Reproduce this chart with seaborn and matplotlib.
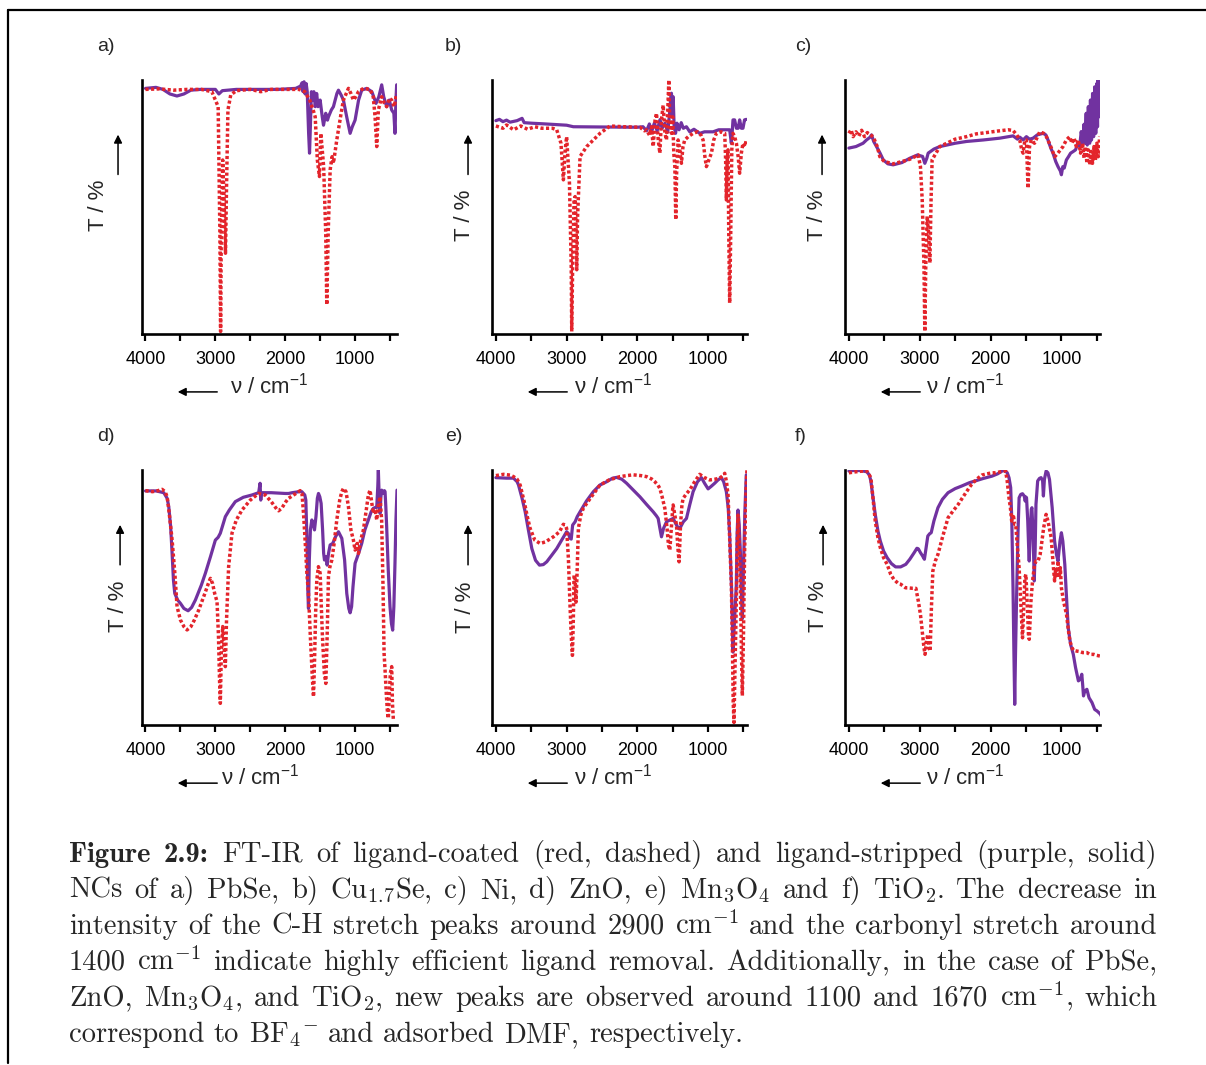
import numpy as np
import seaborn as sns
import matplotlib.pyplot as plt
from matplotlib.lines import Line2D

sns.set_theme(style='ticks')
plt.rcParams['font.family'] = ['Liberation Sans', 'DejaVu Sans']
plt.rcParams['mathtext.fontset'] = 'custom'
plt.rcParams['mathtext.rm'] = 'Liberation Sans'
plt.rcParams['mathtext.it'] = 'Liberation Sans:italic'
plt.rcParams['mathtext.bf'] = 'Liberation Sans:bold'

RED = '#e3242b'
PURPLE = '#7132a0'

# spectra: [wavenumber (cm-1), T (% of plot height)]
a_coated = np.array([
    [4000, 96.3], [3800, 96.5], [3600, 96.0], [3400, 96.3], [3200, 96.3], [3050, 95.4],
    [2960, 89.5], [2935, 39.7], [2925, 1.0], [2915, 39.7], [2895, 68.5], [2875, 52.8],
    [2855, 31.8], [2840, 58.0], [2820, 88.2], [2780, 94.1], [2700, 95.8], [2500, 96.3],
    [2350, 95.4], [2200, 96.3], [2000, 96.3], [1800, 96.3], [1720, 95.4], [1650, 92.1],
    [1600, 88.2], [1571, 85.5], [1540, 68.5], [1510, 62.0], [1490, 79.0], [1450, 65.9],
    [1420, 39.7], [1405, 11.5], [1385, 39.7], [1357, 64.6], [1330, 69.8], [1310, 67.2],
    [1262, 76.4], [1200, 86.9], [1167, 92.1], [1095, 96.7], [1060, 94.7], [1024, 92.1],
    [990, 93.4], [952, 95.4], [881, 96.7], [786, 96.3], [740, 93.4], [714, 85.5],
    [690, 73.8], [667, 88.2], [619, 93.4], [580, 90.8], [548, 89.5], [510, 92.8],
    [476, 92.1], [440, 89.5], [405, 94.7]])
a_stripped = np.array([
    [4000, 96.7], [3850, 97.1], [3750, 96.3], [3650, 94.5], [3550, 93.7], [3450, 94.5],
    [3350, 96.0], [3214, 96.3], [3000, 96.3], [2950, 94.5], [2900, 95.8], [2700, 96.3],
    [2400, 96.3], [2100, 96.3], [1850, 96.7], [1780, 97.6], [1760, 98.9], [1745, 95.4],
    [1730, 99.3], [1715, 94.5], [1700, 98.6], [1685, 95.4], [1665, 79.0], [1652, 71.2],
    [1640, 81.6], [1625, 95.4], [1605, 92.1], [1590, 95.4], [1570, 89.5], [1550, 94.7],
    [1530, 89.5], [1500, 92.1], [1470, 85.5], [1452, 82.2], [1420, 86.9], [1395, 84.2],
    [1381, 85.5], [1340, 88.2], [1310, 89.5], [1260, 94.7], [1238, 96.0], [1200, 94.1],
    [1167, 92.1], [1120, 85.5], [1071, 79.0], [1040, 81.6], [1000, 84.2], [950, 92.1],
    [905, 96.0], [833, 96.7], [760, 95.4], [700, 90.8], [660, 93.4], [619, 98.1],
    [590, 93.4], [548, 89.5], [510, 92.1], [476, 88.2], [445, 86.9], [429, 79.0],
    [415, 92.1], [405, 98.1]])

b_coated = np.array([
    [4000, 81.9], [3900, 81.0], [3850, 82.3], [3750, 80.4], [3650, 81.9], [3550, 80.6],
    [3450, 81.6], [3350, 81.0], [3200, 81.0], [3140, 80.4], [3080, 75.1], [3046, 60.7],
    [3020, 72.5], [3000, 77.7], [2960, 59.4], [2935, 26.6], [2928, 1.0], [2915, 26.6],
    [2895, 52.8], [2880, 54.1], [2865, 39.7], [2857, 25.3], [2845, 46.3], [2810, 69.9],
    [2716, 73.8], [2622, 76.4], [2528, 79.0], [2387, 81.9], [2200, 81.6], [1964, 81.4],
    [1900, 80.0], [1870, 80.4], [1830, 78.3], [1800, 81.6], [1776, 73.8], [1750, 84.2],
    [1729, 86.9], [1705, 76.4], [1682, 71.2], [1660, 84.2], [1635, 90.1], [1610, 79.0],
    [1588, 76.4], [1570, 88.2], [1555, 100.0], [1540, 81.6], [1518, 79.0], [1500, 85.5],
    [1485, 71.2], [1470, 65.9], [1457, 45.0], [1445, 63.3], [1424, 76.4], [1400, 72.5],
    [1377, 67.2], [1355, 73.8], [1330, 76.4], [1280, 77.7], [1212, 79.0], [1150, 79.6],
    [1100, 78.3], [1071, 76.4], [1045, 69.8], [1024, 65.9], [990, 68.5], [953, 71.2],
    [920, 76.4], [883, 79.0], [820, 79.6], [765, 79.0], [752, 68.5], [742, 52.8],
    [730, 68.5], [718, 72.5], [708, 39.7], [695, 12.2], [680, 39.7], [665, 72.5],
    [648, 79.0], [625, 77.7], [600, 75.1], [575, 69.8], [554, 63.3], [530, 71.2],
    [507, 75.1], [480, 73.8], [460, 76.4]])
b_stripped = np.array([
    [4000, 84.0], [3950, 84.5], [3900, 83.6], [3850, 84.2], [3800, 83.4], [3700, 84.0],
    [3630, 84.9], [3600, 83.2], [3500, 83.0], [3300, 82.7], [3000, 82.2], [2905, 81.6],
    [2500, 81.5], [2000, 81.4], [1920, 81.6], [1870, 80.0], [1830, 82.7], [1800, 79.6],
    [1760, 83.0], [1720, 80.0], [1680, 84.4], [1650, 81.0], [1610, 83.0], [1570, 79.6],
    [1540, 88.2], [1525, 94.1], [1518, 94.8], [1505, 85.6], [1494, 93.4], [1480, 81.6],
    [1460, 79.0], [1440, 83.0], [1410, 80.4], [1380, 83.2], [1350, 81.0], [1306, 81.6],
    [1259, 79.6], [1200, 80.6], [1118, 79.0], [1050, 79.6], [930, 79.6], [850, 80.4],
    [760, 80.4], [695, 80.4], [680, 77.1], [671, 75.1], [660, 79.0], [648, 84.3],
    [625, 84.3], [600, 81.0], [575, 81.0], [554, 84.3], [530, 81.0], [507, 81.0],
    [485, 84.3], [460, 84.5]])

c_coated = np.array([
    [4000, 79.0], [3970, 80.4], [3940, 77.7], [3900, 79.6], [3860, 77.9], [3820, 80.2],
    [3780, 77.7], [3740, 79.3], [3700, 78.4], [3657, 77.7], [3600, 73.8], [3563, 69.8],
    [3500, 67.9], [3375, 67.0], [3250, 67.9], [3140, 68.8], [3022, 70.5], [2990, 65.9],
    [2965, 52.8], [2940, 26.6], [2928, 1.0], [2915, 26.6], [2895, 46.3], [2875, 39.7],
    [2857, 28.0], [2840, 52.8], [2825, 68.6], [2716, 73.8], [2500, 76.7], [2340, 77.7],
    [2200, 78.8], [2058, 79.3], [1900, 79.9], [1750, 80.4], [1682, 80.1], [1630, 78.4],
    [1588, 76.4], [1560, 72.5], [1541, 71.2], [1515, 76.4], [1494, 76.4], [1471, 57.4],
    [1450, 73.8], [1424, 76.4], [1380, 75.1], [1306, 79.6], [1250, 79.0], [1212, 77.7],
    [1150, 73.8], [1094, 69.8], [1050, 71.2], [977, 73.8], [930, 76.4], [883, 77.7],
    [850, 75.1], [820, 77.1], [789, 73.8], [760, 76.4], [730, 71.2], [700, 75.1],
    [680, 69.2], [660, 73.8], [640, 67.2], [620, 72.5], [601, 66.6], [580, 71.9],
    [560, 67.2], [540, 73.8], [520, 68.5], [500, 75.1], [480, 69.8], [460, 77.7]])
c_stripped = np.array([
    [4000, 73.2], [3900, 73.8], [3800, 75.1], [3751, 76.4], [3700, 77.5], [3680, 78.4],
    [3650, 75.8], [3610, 73.8], [3560, 71.2], [3516, 68.6], [3450, 67.0], [3375, 66.6],
    [3250, 67.5], [3140, 69.2], [3030, 70.5], [2960, 69.9], [2928, 67.2], [2900, 69.2],
    [2881, 71.2], [2800, 72.8], [2716, 73.8], [2500, 75.1], [2340, 75.8], [2100, 76.4],
    [1870, 77.1], [1682, 78.0], [1620, 76.7], [1588, 77.5], [1540, 76.4], [1494, 77.7],
    [1450, 76.7], [1400, 77.1], [1340, 78.4], [1259, 79.0], [1220, 78.4], [1189, 76.4],
    [1150, 73.2], [1118, 71.2], [1080, 67.9], [1048, 65.9], [1015, 64.2], [1000, 62.7],
    [980, 65.9], [960, 65.3], [930, 68.5], [900, 69.8], [870, 71.2], [836, 71.8],
    [800, 72.5], [770, 75.1], [742, 73.8], [720, 79.7], [700, 75.1], [680, 82.6],
    [671, 75.1], [650, 86.9], [635, 74.4], [620, 89.5], [601, 75.1], [590, 92.1],
    [575, 76.4], [560, 94.7], [545, 77.7], [530, 97.3], [515, 79.0], [500, 98.6],
    [490, 81.6], [483, 100.0], [470, 85.5], [460, 99.4]])

d_coated = np.array([
    [4000, 91.9], [3900, 91.5], [3820, 91.9], [3762, 92.4], [3720, 91.5], [3690, 89.5],
    [3660, 83.0], [3619, 72.5], [3580, 59.5], [3548, 46.4], [3500, 41.2], [3450, 38.6],
    [3405, 37.3], [3350, 38.6], [3300, 41.2], [3238, 45.1], [3150, 51.6], [3100, 55.5],
    [3071, 57.5], [3040, 55.5], [3010, 51.6], [2976, 48.4], [2955, 34.6], [2940, 17.6],
    [2929, 8.5], [2915, 28.1], [2895, 38.6], [2875, 30.7], [2857, 22.9], [2840, 41.2],
    [2810, 62.1], [2762, 75.2], [2700, 80.4], [2619, 84.3], [2500, 88.2], [2381, 90.8],
    [2286, 90.2], [2200, 87.6], [2120, 84.6], [2095, 84.0], [2050, 85.0], [1990, 87.6],
    [1952, 88.9], [1880, 90.2], [1786, 91.9], [1760, 90.8], [1738, 83.0], [1710, 69.9],
    [1690, 59.5], [1667, 51.6], [1640, 34.6], [1610, 17.6], [1595, 11.1], [1580, 25.5],
    [1565, 43.8], [1548, 56.9], [1525, 62.1], [1500, 59.5], [1485, 47.7], [1467, 34.6],
    [1440, 20.3], [1419, 16.3], [1400, 34.6], [1381, 58.2], [1360, 62.1], [1333, 64.7],
    [1300, 71.2], [1262, 80.4], [1220, 88.2], [1190, 91.5], [1167, 92.8], [1130, 91.5],
    [1095, 85.6], [1060, 76.5], [1024, 72.5], [1000, 68.6], [970, 71.2], [952, 67.3],
    [920, 72.5], [881, 76.5], [840, 84.3], [810, 90.2], [786, 92.1], [760, 86.9],
    [738, 83.0], [715, 84.6], [690, 80.4], [670, 85.6], [643, 89.5], [620, 80.4],
    [600, 54.2], [585, 28.1], [571, 21.6], [550, 10.7], [535, 4.6], [524, 2.6],
    [510, 12.4], [495, 20.3], [476, 22.9], [465, 8.5], [452, 2.0]])
d_stripped = np.array([
    [4000, 91.8], [3850, 91.8], [3738, 91.1], [3690, 88.9], [3667, 85.6], [3640, 77.8],
    [3619, 67.3], [3600, 56.9], [3581, 51.6], [3540, 49.0], [3500, 47.7], [3450, 45.7],
    [3390, 44.8], [3340, 46.1], [3286, 49.0], [3200, 54.9], [3143, 59.5], [3070, 66.0],
    [3000, 72.5], [2960, 73.6], [2929, 75.2], [2900, 77.8], [2857, 81.7], [2800, 84.3],
    [2714, 87.6], [2600, 89.3], [2476, 90.2], [2380, 91.1], [2360, 94.8], [2350, 88.2],
    [2340, 91.1], [2200, 91.1], [2000, 90.8], [1952, 90.8], [1900, 91.1], [1800, 91.5],
    [1762, 91.5], [1720, 90.2], [1705, 88.2], [1690, 73.8], [1675, 51.6], [1667, 45.7],
    [1655, 64.7], [1640, 76.5], [1619, 80.4], [1600, 79.1], [1581, 76.5], [1560, 81.7],
    [1540, 88.9], [1524, 90.8], [1505, 89.5], [1486, 86.9], [1465, 76.5], [1450, 67.3],
    [1438, 64.7], [1415, 66.0], [1400, 62.7], [1380, 67.3], [1357, 70.6], [1320, 71.2],
    [1280, 73.8], [1238, 75.8], [1190, 73.2], [1150, 64.7], [1119, 51.6], [1090, 45.7],
    [1071, 44.0], [1050, 46.4], [1030, 54.2], [1000, 63.4], [950, 67.3], [905, 71.2],
    [860, 76.5], [810, 80.4], [770, 83.6], [738, 85.0], [710, 85.3], [690, 85.3],
    [675, 93.5], [667, 100.0], [655, 89.5], [643, 83.0], [630, 89.5], [619, 92.1],
    [600, 90.8], [580, 91.9], [571, 91.5], [560, 85.6], [548, 77.8], [525, 60.8],
    [500, 46.4], [480, 39.9], [462, 37.2], [445, 46.4], [429, 63.4], [415, 80.4],
    [400, 92.1]])

e_coated = np.array([
    [4000, 97.8], [3892, 98.3], [3800, 98.0], [3751, 97.4], [3700, 96.4], [3657, 94.1],
    [3600, 87.6], [3550, 81.0], [3516, 77.1], [3450, 72.5], [3375, 71.2], [3300, 71.8],
    [3187, 73.8], [3100, 75.8], [3046, 78.7], [3020, 78.4], [3000, 77.1], [2975, 65.3],
    [2952, 46.9], [2935, 35.1], [2918, 27.3], [2905, 41.7], [2895, 58.7], [2880, 57.4],
    [2867, 48.2], [2850, 61.4], [2834, 77.1], [2800, 82.3], [2764, 85.0], [2650, 89.5],
    [2528, 94.1], [2400, 96.1], [2246, 97.4], [2150, 97.8], [2058, 98.1], [1950, 97.8],
    [1870, 97.4], [1800, 96.5], [1753, 95.4], [1710, 94.1], [1682, 92.8], [1650, 89.5],
    [1612, 85.0], [1580, 77.1], [1560, 70.5], [1541, 68.6], [1520, 77.1], [1500, 85.0],
    [1494, 86.3], [1470, 82.3], [1447, 78.4], [1430, 70.5], [1410, 64.0], [1390, 78.4],
    [1370, 86.3], [1353, 88.9], [1300, 90.9], [1259, 92.2], [1190, 95.4], [1118, 98.3],
    [1050, 97.0], [977, 96.1], [900, 96.4], [836, 96.8], [790, 97.8], [765, 98.7],
    [740, 95.4], [718, 90.2], [700, 77.1], [685, 65.3], [671, 54.8], [655, 28.6],
    [645, 8.9], [634, 1.0], [620, 22.0], [601, 48.2], [590, 67.9], [577, 82.3],
    [560, 70.5], [544, 54.8], [530, 31.2], [516, 11.5], [500, 35.1], [484, 67.9],
    [465, 90.2], [451, 100.0]])
e_stripped = np.array([
    [4000, 97.0], [3850, 96.8], [3751, 96.8], [3700, 95.4], [3680, 94.1], [3630, 88.9],
    [3586, 83.6], [3540, 76.4], [3492, 69.2], [3440, 64.6], [3384, 62.7], [3330, 62.9],
    [3281, 64.0], [3210, 66.6], [3140, 69.2], [3070, 72.5], [3000, 75.8], [2975, 75.1],
    [2952, 73.2], [2935, 72.9], [2915, 78.4], [2880, 79.7], [2850, 81.7], [2810, 83.6],
    [2720, 87.8], [2622, 91.5], [2530, 94.1], [2434, 95.4], [2350, 96.8], [2293, 97.1],
    [2220, 96.4], [2152, 94.8], [2060, 92.2], [1964, 89.5], [1870, 86.5], [1776, 83.6],
    [1730, 82.0], [1706, 81.0], [1685, 77.7], [1659, 73.8], [1630, 77.1], [1588, 79.7],
    [1540, 80.4], [1494, 81.0], [1460, 79.1], [1420, 77.1], [1400, 77.1], [1350, 79.7],
    [1306, 81.0], [1260, 86.3], [1212, 91.5], [1150, 95.4], [1094, 97.0], [1050, 94.8],
    [1000, 92.6], [960, 93.5], [907, 94.8], [860, 96.1], [812, 97.0], [780, 95.4],
    [742, 91.5], [715, 85.0], [695, 74.5], [670, 54.8], [648, 28.6], [630, 39.1],
    [601, 54.8], [590, 74.5], [577, 84.3], [560, 78.4], [544, 67.9], [530, 52.2],
    [516, 41.7], [500, 61.4], [480, 83.6], [460, 98.1]])

f_coated = np.array([
    [4000, 98.9], [3900, 99.3], [3800, 99.6], [3747, 99.6], [3690, 97.0], [3660, 89.1],
    [3628, 80.0], [3590, 73.5], [3556, 69.5], [3510, 65.6], [3460, 63.0], [3410, 59.1],
    [3365, 57.1], [3300, 55.4], [3269, 55.2], [3200, 53.8], [3174, 53.8], [3100, 53.6],
    [3054, 53.6], [3020, 48.6], [2990, 43.4], [2960, 35.5], [2940, 30.3], [2925, 27.7],
    [2905, 32.9], [2886, 35.5], [2870, 30.3], [2853, 29.0], [2835, 46.0], [2815, 60.4],
    [2780, 64.3], [2743, 66.9], [2680, 73.5], [2600, 81.3], [2530, 83.9], [2457, 86.5],
    [2380, 89.8], [2300, 93.1], [2266, 94.4], [2200, 96.3], [2123, 98.0], [2050, 98.5],
    [1980, 98.9], [1931, 98.9], [1860, 99.3], [1788, 99.6], [1765, 95.7], [1740, 89.1],
    [1720, 85.2], [1702, 80.0], [1680, 82.6], [1660, 78.7], [1645, 78.7], [1620, 69.5],
    [1597, 61.7], [1570, 46.0], [1549, 34.2], [1530, 47.7], [1515, 57.8], [1501, 59.1],
    [1480, 46.0], [1465, 35.5], [1454, 33.6], [1430, 48.6], [1407, 56.5], [1380, 62.7],
    [1359, 64.3], [1330, 64.3], [1300, 66.9], [1287, 69.5], [1250, 77.4], [1216, 82.6],
    [1190, 80.0], [1144, 73.5], [1120, 64.3], [1096, 56.5], [1080, 61.7], [1065, 57.8],
    [1048, 64.3], [1030, 57.8], [1015, 61.7], [1000, 53.8], [970, 48.6], [928, 43.4],
    [900, 36.9], [880, 32.9], [850, 30.3], [830, 29.3], [785, 29.0], [740, 28.8],
    [700, 28.4], [640, 28.4], [600, 27.7], [545, 27.7], [500, 27.3], [449, 27.0],
    [420, 27.7], [401, 28.4]])
f_stripped = np.array([
    [4000, 99.6], [3900, 99.9], [3800, 99.6], [3747, 99.3], [3710, 98.0], [3690, 95.7],
    [3660, 89.2], [3628, 82.6], [3590, 76.1], [3556, 72.1], [3510, 68.2], [3460, 65.6],
    [3400, 63.3], [3341, 62.0], [3270, 62.0], [3197, 63.0], [3140, 65.0], [3078, 67.6],
    [3040, 69.3], [3020, 69.1], [2990, 67.6], [2960, 66.3], [2934, 65.0], [2910, 69.5],
    [2886, 74.1], [2860, 75.0], [2838, 75.4], [2800, 80.0], [2743, 85.2], [2680, 88.5],
    [2600, 91.1], [2500, 92.7], [2409, 93.7], [2300, 95.0], [2218, 95.7], [2100, 96.7],
    [1979, 97.6], [1900, 98.5], [1836, 99.6], [1800, 99.9], [1764, 98.9], [1740, 97.0],
    [1716, 93.1], [1700, 80.0], [1683, 53.8], [1670, 27.7], [1659, 8.1], [1648, 27.7],
    [1630, 53.8], [1612, 76.1], [1597, 89.1], [1575, 90.4], [1549, 90.7], [1525, 89.8],
    [1511, 87.8], [1500, 89.4], [1492, 89.1], [1475, 80.0], [1462, 69.5], [1454, 64.3],
    [1440, 76.1], [1425, 84.6], [1416, 85.2], [1400, 74.8], [1383, 56.5], [1370, 69.5],
    [1359, 86.5], [1335, 95.7], [1310, 96.7], [1287, 97.0], [1265, 95.7], [1254, 89.8],
    [1240, 96.3], [1216, 99.6], [1190, 98.9], [1168, 96.3], [1130, 85.2], [1096, 72.1],
    [1070, 66.9], [1048, 64.3], [1020, 72.1], [1000, 75.4], [980, 72.1], [952, 63.0],
    [930, 51.2], [904, 38.2], [870, 31.6], [832, 27.7], [800, 22.5], [760, 17.3],
    [735, 17.9], [712, 19.9], [700, 15.9], [688, 11.4], [670, 13.3], [640, 14.0],
    [610, 10.7], [568, 8.8], [530, 6.1], [497, 5.5], [470, 4.8], [449, 4.2],
    [425, 2.9], [401, 1.6]])

panel_letters = ['a)', 'b)', 'c)', 'd)', 'e)', 'f)']
coated = [a_coated, b_coated, c_coated, d_coated, e_coated, f_coated]
stripped = [a_stripped, b_stripped, c_stripped, d_stripped, e_stripped, f_stripped]
x_right = [400, 450, 455, 400, 450, 455]
tick_pos = [4000, 3500, 3000, 2500, 2000, 1500, 1000, 500]
tick_lab = ['4000', '', '3000', '', '2000', '', '1000', '']

W, H = 1206, 1065
fig = plt.figure(figsize=(W / 100, H / 100), dpi=100)

# axes boxes in pixels (left, top, bottom)
lefts = [142, 492, 845]
rows = [(80, 334), (470, 725)]
ylab_x = [-0.17, -0.106, -0.106, -0.094, -0.102, -0.102]
ylab_y = [0.508, 0.469, 0.469, 0.467, 0.463, 0.467]
yarrow_x = [-0.094, -0.094, -0.09, -0.086, -0.094, -0.086]
xlab_x = [0.5, 0.475, 0.47, 0.465, 0.475, 0.47]
letter_x = [-0.176, -0.184, -0.196, -0.176, -0.184, -0.196]

for i in range(6):
    top, bot = rows[i // 3]
    left = lefts[i % 3]
    ax = fig.add_axes([left / W, 1 - bot / H, 255 / W, (bot - top) / H])
    s = stripped[i]
    c = coated[i]
    sns.lineplot(x=s[:, 0], y=s[:, 1], ax=ax, color=PURPLE, lw=2.3, sort=False,
                 estimator=None)
    sns.lineplot(x=c[:, 0], y=c[:, 1], ax=ax, color=RED, lw=2.5, sort=False,
                 estimator=None, linestyle=(0, (0.9, 0.7)))
    ax.lines[-1].set_dash_capstyle('butt')
    ax.set_xlim(4050 if i % 3 == 0 else 4055, x_right[i])
    ax.set_ylim(0, 100)
    ax.set_xticks(tick_pos)
    ax.set_xticklabels(tick_lab)
    ax.set_yticks([])
    ax.set_xlabel('')
    ax.set_ylabel('')
    sns.despine(ax=ax)
    for sp in ['left', 'bottom']:
        ax.spines[sp].set_linewidth(1.9)
        ax.spines[sp].set_color('black')
    ax.tick_params(axis='x', direction='out', length=5, width=1.6, labelsize=13,
                   pad=7, colors='black')
    ax.set_facecolor('none')

    ax.text(letter_x[i], 1.13, panel_letters[i], transform=ax.transAxes, fontsize=14,
            ha='left', va='center')
    ax.text(ylab_x[i], ylab_y[i], 'T / %', rotation=90, transform=ax.transAxes,
            fontsize=16, ha='center', va='center')
    ax.annotate('', xy=(yarrow_x[i], 0.785), xytext=(yarrow_x[i], 0.628),
                xycoords='axes fraction', annotation_clip=False,
                arrowprops=dict(arrowstyle='-|>', color='black', lw=1.1,
                                mutation_scale=12, shrinkA=0, shrinkB=0))
    ax.text(xlab_x[i], -0.235, r'ν / cm$^{-1}$', transform=ax.transAxes,
            fontsize=16, ha='center', va='baseline')
    ax.annotate('', xy=(0.14, -0.228), xytext=(0.295, -0.228),
                xycoords='axes fraction', annotation_clip=False,
                arrowprops=dict(arrowstyle='-|>', color='black', lw=1.1,
                                mutation_scale=12, shrinkA=0, shrinkB=0))

# page frame
fig.add_artist(Line2D([8 / W, 1], [1 - 10 / H, 1 - 10 / H], color='black', lw=1.6))
fig.add_artist(Line2D([8 / W, 8 / W], [1 - 10 / H, 1 - 1063 / H], color='black', lw=1.6))

# caption, justified word by word
caption_lines = [
    [('Figure', True), ('2.9:', True), ('FT-IR', False), ('of', False),
     ('ligand-coated', False), ('(red,', False), ('dashed)', False), ('and', False),
     ('ligand-stripped', False), ('(purple,', False), ('solid)', False)],
    [('NCs', False), ('of', False), ('a)', False), ('PbSe,', False), ('b)', False),
     ('Cu$_{1.7}$Se,', False), ('c)', False), ('Ni,', False), ('d)', False),
     ('ZnO,', False), ('e)', False), ('Mn$_3$O$_4$', False), ('and', False),
     ('f)', False), ('TiO$_2$.', False), ('The', False), ('decrease', False),
     ('in', False)],
    [('intensity', False), ('of', False), ('the', False), ('C-H', False),
     ('stretch', False), ('peaks', False), ('around', False), ('2900', False),
     ('cm$^{-1}$', False), ('and', False), ('the', False), ('carbonyl', False),
     ('stretch', False), ('around', False)],
    [('1400', False), ('cm$^{-1}$', False), ('indicate', False), ('highly', False),
     ('efficient', False), ('ligand', False), ('removal.', False),
     ('Additionally,', False), ('in', False), ('the', False), ('case', False),
     ('of', False), ('PbSe,', False)],
    [('ZnO,', False), ('Mn$_3$O$_4$,', False), ('and', False), ('TiO$_2$,', False),
     ('new', False), ('peaks', False), ('are', False), ('observed', False),
     ('around', False), ('1100', False), ('and', False), ('1670', False),
     ('cm$^{-1}$,', False), ('which', False)],
    [('correspond', False), ('to', False), ('BF$_4{}^{-}$', False), ('and', False),
     ('adsorbed', False), ('DMF,', False), ('respectively.', False)],
]

CAP_FS = 20.6
fig.canvas.draw()
renderer = fig.canvas.get_renderer()
x0, x1 = 69, 1157
for li, words in enumerate(caption_lines):
    ybase = 1 - (862 + li * 36) / H
    texts = []
    for w, bold in words:
        t = fig.text(0, ybase, w, fontsize=CAP_FS, family='cmb10' if bold else 'cmr10',
                     math_fontfamily='cm', va='baseline', ha='left')
        texts.append(t)
    widths = [t.get_window_extent(renderer).width for t in texts]
    if li < len(caption_lines) - 1:
        gap = (x1 - x0 - sum(widths)) / (len(texts) - 1)
    else:
        gap = CAP_FS * 100 / 72 * 0.333
    x = x0
    for t, wd in zip(texts, widths):
        t.set_x(x / W)
        x += wd + gap

fig.savefig('out.png', dpi=100)
